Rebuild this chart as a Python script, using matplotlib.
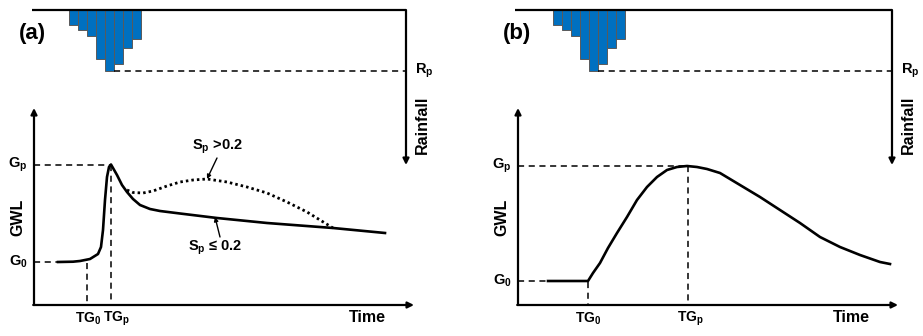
import matplotlib
matplotlib.use("Agg")
import matplotlib.pyplot as plt

plt.rcParams['font.family'] = ['Liberation Sans', 'DejaVu Sans']
plt.rcParams['mathtext.fontset'] = 'custom'
plt.rcParams['mathtext.rm'] = 'Liberation Sans:bold'
plt.rcParams['mathtext.it'] = 'Liberation Sans:bold'
plt.rcParams['mathtext.bf'] = 'Liberation Sans:bold'
plt.rcParams['mathtext.default'] = 'rm'

# ---------------- data (schematic units) ----------------
panels = ["(a)", "(b)"]

# rainfall hyetograph: depth of each bar below the top line
rain_depth = [15, 20, 26, 49, 61, 54, 38, 29]
rain_start_a = 69
rain_start_b = 553
rain_width = 9

# panel (a) GWL curves (time, level; level measured downward)
a_time = [58, 73, 80, 90, 98, 101, 103, 105, 107, 109, 111, 113, 117, 122,
          127, 133, 140, 150, 160, 180, 217, 267, 333, 385]
a_gwl = [262, 261.7, 261, 259, 254, 247, 230, 200, 177, 167, 164.5, 168,
         175, 185, 192, 199, 205, 209, 211, 213.5, 218, 223, 228, 233]
a_dot_time = [127, 133, 143, 153, 167, 180, 193, 207, 227, 247, 267, 287,
              307, 320, 333]
a_dot_gwl = [190, 192.5, 193, 191, 186, 182, 180, 179, 182, 187, 193, 202,
             212, 220, 228]

# panel (b) GWL curve
b_time = [548, 588, 593, 600, 608, 617, 627, 637, 647, 657, 667, 677, 687,
          697, 707, 720, 740, 760, 780, 800, 820, 840, 860, 880, 890]
b_gwl = [281, 281, 273, 263, 248, 233, 217, 200, 187, 177, 170, 167, 166,
         167, 169, 173, 185, 197, 210, 223, 237, 247, 255, 262, 264]

# key points
a_G0, a_Gp, a_TG0, a_TGp = 262, 164.5, 87, 111
b_G0, b_Gp, b_TG0, b_TGp = 281, 166, 588, 688
top_y = 10

fig = plt.figure(figsize=(9.23, 3.36), dpi=100)
ax = fig.add_axes([0, 0, 1, 1])
ax.set_xlim(0, 923)
ax.set_ylim(336, 0)
ax.axis('off')

blue = '#0070C0'
dash = dict(color='black', lw=1.1, linestyle=(0, (4, 3)))
fs = 11.5


def arrow(x0, y0, x1, y1, lw=1.6, ms=9):
    ax.annotate('', xy=(x1, y1), xytext=(x0, y0),
                arrowprops=dict(arrowstyle='-|>', lw=lw, color='black',
                                mutation_scale=ms, shrinkA=0, shrinkB=0))


def panel(label, label_x, rain_start, G0, Gp, TG0, TGp, tg_lab, curve_start_x,
          top_left, right_x, axis_x, axis_end):
    # rainfall top line + right axis
    ax.plot([top_left, right_x], [top_y, top_y], color='black', lw=1.6,
            solid_capstyle='butt')
    arrow(right_x, top_y, right_x, 165)
    # bars
    for i, d in enumerate(rain_depth):
        ax.bar(rain_start + i * rain_width, d, bottom=top_y, width=rain_width,
               align='edge', color=blue, edgecolor='#5a5a5a', lw=0.7)
    peak_i = rain_depth.index(max(rain_depth))
    ax.plot([rain_start + (peak_i + 1) * rain_width, right_x],
            [top_y + max(rain_depth)] * 2, **dash)
    ax.text(right_x + 9, top_y + max(rain_depth), r'R$_\mathregular{p}$',
            fontsize=10.5, fontweight='bold', ha='left', va='center')
    ax.text(right_x + 16, 125, 'Rainfall', fontsize=fs, fontweight='bold',
            rotation=90, ha='center', va='center')
    ax.text(label_x, 33, label, fontsize=16, fontweight='bold',
            ha='center', va='center')

    # GWL axes
    arrow(axis_x, 305, axis_x, 108)
    arrow(axis_x - 0.8, 305, axis_end, 305)
    ax.text(axis_x - 16, 217, 'GWL', fontsize=fs, fontweight='bold',
            rotation=90, ha='center', va='center')
    ax.text(axis_x - 16, Gp, r'G$_\mathregular{p}$', fontsize=10.5,
            fontweight='bold', ha='center', va='center')
    ax.text(axis_x - 16, G0, r'G$_\mathregular{0}$', fontsize=10.5,
            fontweight='bold', ha='center', va='center')
    ax.text(tg_lab[0], 319, r'TG$_\mathregular{0}$', fontsize=10,
            fontweight='bold', ha='center', va='center')
    ax.text(tg_lab[1], 319, r'TG$_\mathregular{p}$', fontsize=10,
            fontweight='bold', ha='center', va='center')
    ax.text(axis_end - 47, 318, 'Time', fontsize=fs, fontweight='bold',
            ha='center', va='center')
    # dashed guides
    ax.plot([axis_x, TGp], [Gp, Gp], **dash)
    ax.plot([TGp, TGp], [Gp, 305], **dash)
    ax.plot([axis_x, curve_start_x], [G0, G0], **dash)
    ax.plot([TG0, TG0], [G0 + 1, 305], **dash)


panel(panels[0], 32, rain_start_a, a_G0, a_Gp, a_TG0, a_TGp, (88, 116),
      a_time[0], 32, 406, 34, 414)
panel(panels[1], 517, rain_start_b, b_G0, b_Gp, b_TG0, b_TGp, (588, 690),
      b_time[0], 515, 892, 518, 898)

ax.plot(a_time, a_gwl, color='black', lw=1.9, solid_joinstyle='round')
ax.plot(a_dot_time, a_dot_gwl, color='black', lw=2.0, linestyle=(0, (0.9, 1.1)))
ax.plot(b_time, b_gwl, color='black', lw=1.9, solid_joinstyle='round')

# annotations (a)
ax.text(217, 147, r'S$_\mathregular{p}$ >0.2', fontsize=10.5,
        fontweight='bold', ha='center', va='center')
arrow(217, 158, 207, 179, lw=1.0, ms=6)
ax.text(215, 248, r'S$_\mathregular{p}$ ≤ 0.2', fontsize=10.5,
        fontweight='bold', ha='center', va='center')
arrow(220, 237, 215, 217, lw=1.0, ms=6)

fig.savefig('out.png', dpi=100)
